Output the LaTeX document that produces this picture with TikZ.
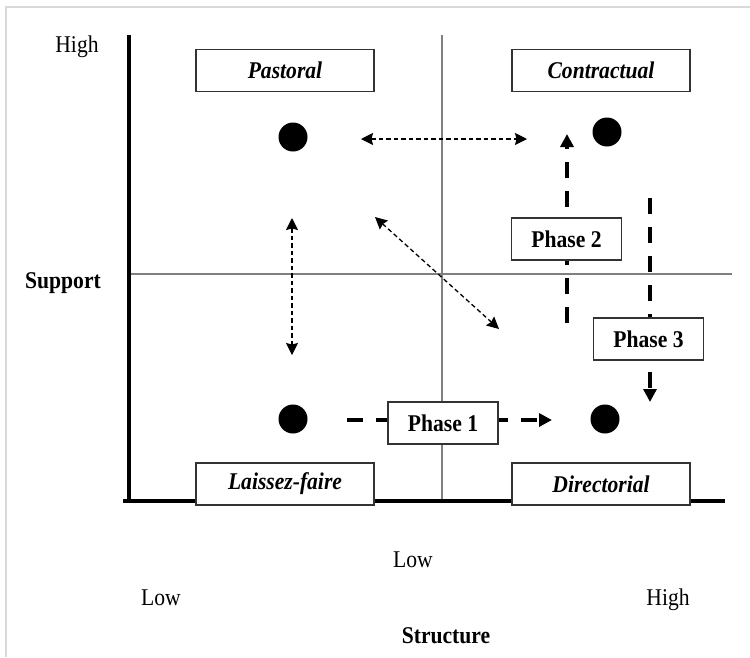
\documentclass[tikz,border=0pt]{standalone}
\usepackage{fontspec}
\usepackage{graphicx}
\setmainfont{Liberation Serif}
\usetikzlibrary{arrows.meta}
\newcommand{\sqz}[1]{\scalebox{0.9}[1]{#1}}
\begin{document}
\begin{tikzpicture}[x=1pt,y=-1pt,
  lbl/.style={inner sep=0pt, anchor=base, font=\fontsize{24}{28}\selectfont},
  blbl/.style={inner sep=0pt, anchor=base, font=\fontsize{24}{28}\selectfont\bfseries},
  quad/.style={draw=black!80, line width=1.5pt, minimum width=178pt, minimum height=42pt, inner sep=0pt, fill=white, font=\fontsize{24}{28}\selectfont\bfseries\itshape},
  phasebox/.style={draw=black!80, line width=1.5pt, minimum width=110pt, minimum height=42pt, inner sep=0pt, fill=white, font=\fontsize{24}{28}\selectfont\bfseries},
  dot/.style={circle, fill=black, minimum size=29pt, inner sep=0pt},
  rel/.style={line width=1.3pt, dash pattern=on 4.5pt off 3pt, {Stealth[length=12pt,width=12pt,inset=1.5pt]}-{Stealth[length=12pt,width=12pt,inset=1.5pt]}},
  phasearrow/.style={line width=3.5pt, dash pattern=on 16pt off 13pt, -{Triangle[length=13pt,width=13pt]}},
  gridline/.style={black!50, line width=1.3pt},
  axis/.style={line width=4pt},
]
\useasboundingbox (0,0) rectangle (750,657);
\fill[white] (0,0) rectangle (750,657);
\draw[black!15, line width=2pt] (6,657) -- (6,7) -- (750,7);

% grid lines
\coordinate (vtop) at (442,35);
\coordinate (vbot) at (442,500);
\coordinate (hl) at (128,274);
\coordinate (hr) at (732,274);
\draw[gridline] (vtop) -- (vbot);
\draw[gridline] (hl) -- (hr);

% axes
\coordinate (ytop) at (128.5,35);
\coordinate (origin) at (128.5,502);
\coordinate (xl) at (123,500.5);
\coordinate (xr) at (725,500.5);
\draw[axis] (ytop) -- (origin);
\draw[axis] (xl) -- (xr);

% axis labels
\node[lbl] (highy) at (77,52) {\sqz{High}};
\node[blbl] (support) at (63,288) {\sqz{Support}};
\node[lbl] (lowmid) at (413,567) {\sqz{Low}};
\node[lbl] (lowx) at (161,605) {\sqz{Low}};
\node[lbl] (highx) at (668,605) {\sqz{High}};
\node[blbl] (structure) at (446,643) {\sqz{Structure}};

% dots
\node[dot] (dP) at (293,137) {};
\node[dot] (dC) at (607,132) {};
\node[dot] (dL) at (293,419) {};
\node[dot] (dD) at (605,419) {};

% relation arrows
\coordinate (h1) at (361,139);
\coordinate (h2) at (527,139);
\coordinate (v1) at (292,218);
\coordinate (v2) at (292,355);
\coordinate (d1) at (375,217);
\coordinate (d2) at (499,329);
\draw[rel] (h1) -- (h2);
\draw[rel] (v1) -- (v2);
\draw[rel] (d1) -- (d2);

% phase arrows
\coordinate (p1s) at (347,420);
\coordinate (p1e) at (552,420);
\coordinate (p2s) at (567,323);
\coordinate (p2e) at (567,134);
\coordinate (p3s) at (650,198);
\coordinate (p3e) at (650,402);
\draw[phasearrow] (p1s) -- (p1e);
\draw[phasearrow] (p2s) -- (p2e);
\draw[phasearrow] (p3s) -- (p3e);

% phase boxes
\node[phasebox] (ph1) at (443,423) {\sqz{Phase 1}};
\node[phasebox] (ph2) at (566.5,239) {\sqz{Phase 2}};
\node[phasebox] (ph3) at (648.5,339) {\sqz{Phase 3}};

% quadrant boxes
\node[quad] (past) at (285,70.5) {\sqz{Pastoral}};
\node[quad] (contr) at (601,70.5) {\sqz{Contractual}};
\node[quad] (laiss) at (285,484) {\sqz{Laissez-faire}};
\node[quad] (direc) at (601,484) {\sqz{Directorial}};
\end{tikzpicture}
\end{document}
